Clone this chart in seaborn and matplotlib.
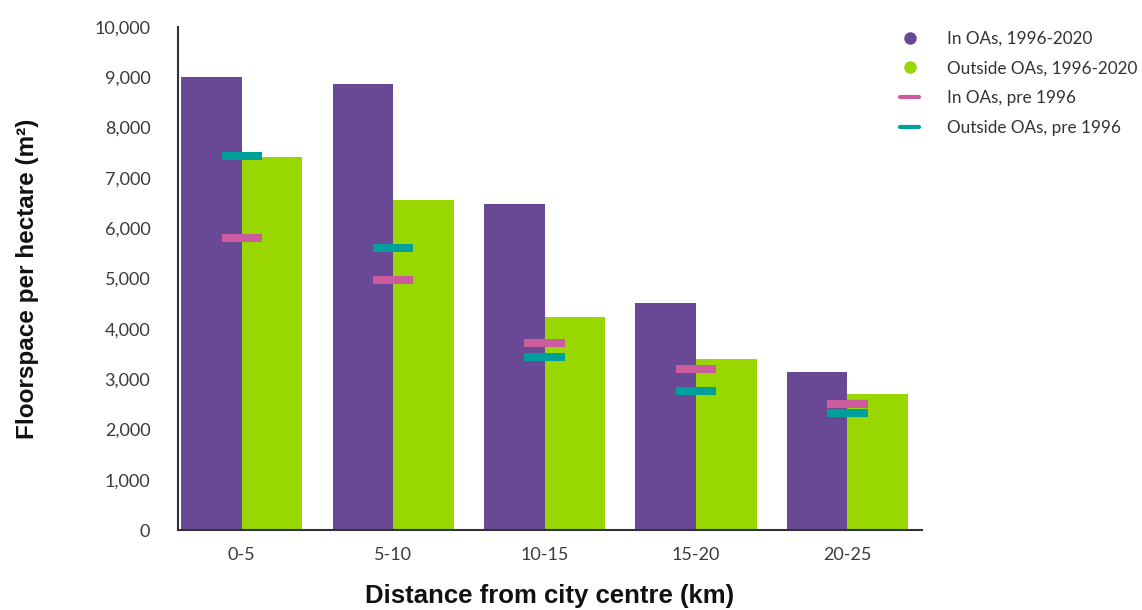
import numpy as np
import pandas as pd
import matplotlib
matplotlib.use("Agg")
import matplotlib.pyplot as plt
from matplotlib.lines import Line2D
import seaborn as sns

# Data
categories = ["0-5", "5-10", "10-15", "15-20", "20-25"]
in_oas_recent = [9000, 8870, 6480, 4510, 3140]
outside_oas_recent = [7420, 6560, 4230, 3400, 2700]
in_oas_pre1996 = [5800, 4970, 3720, 3200, 2510]
outside_oas_pre1996 = [7440, 5610, 3440, 2760, 2330]
y_ticks = [0, 1000, 2000, 3000, 4000, 5000, 6000, 7000, 8000, 9000, 10000]

series_names = ["In OAs, 1996-2020", "Outside OAs, 1996-2020",
                "In OAs, pre 1996", "Outside OAs, pre 1996"]
PURPLE = "#694896"
GREEN = "#98D800"
PINK = "#CD5C9E"
TEAL = "#00A09A"

sns.set_theme(style="white")
plt.rcParams["font.family"] = ["Lato", "DejaVu Sans"]

bars = pd.DataFrame({
    "distance": categories * 2,
    "value": in_oas_recent + outside_oas_recent,
    "series": [series_names[0]] * len(categories) + [series_names[1]] * len(categories),
})
pre = pd.DataFrame({
    "pos": list(np.arange(len(categories))) * 2,
    "value": in_oas_pre1996 + outside_oas_pre1996,
    "series": [series_names[2]] * len(categories) + [series_names[3]] * len(categories),
})

fig = plt.figure(figsize=(11.42, 6.10), dpi=100)
ax = fig.add_axes([0.156, 0.131, 0.651, 0.825])

sns.barplot(data=bars, x="distance", y="value", hue="series",
            palette=[PURPLE, GREEN], width=0.8, saturation=1,
            edgecolor="none", linewidth=0, legend=False, ax=ax)

# Pre-1996 levels drawn as short horizontal dashes over each group
sns.scatterplot(data=pre, x="pos", y="value", hue="series",
                palette=[PINK, TEAL], marker="_", s=29 ** 2,
                linewidth=5.8, legend=False, zorder=5, ax=ax)

ax.set_xlim(-0.42, 4.49)
ax.set_ylim(0, 10000)
ax.set_yticks(y_ticks)
ax.set_yticklabels([f"{v:,}" for v in y_ticks])
ax.set_xticks(range(len(categories)))
ax.set_xticklabels(categories)
ax.tick_params(axis="both", length=0, labelsize=13, colors="#3a3a3a")
ax.tick_params(axis="y", pad=20)
ax.tick_params(axis="x", pad=12)

for side in ["top", "right"]:
    ax.spines[side].set_visible(False)
for side in ["left", "bottom"]:
    ax.spines[side].set_color("#333333")
    ax.spines[side].set_linewidth(1.5)

ax.set_ylabel("Floorspace per hectare (m²)", fontsize=17.5, fontweight="bold",
              family="Liberation Sans", color="#111111", labelpad=40)
ax.set_xlabel("Distance from city centre (km)", fontsize=18.5, fontweight="bold",
              family="Liberation Sans", color="#111111", labelpad=15)

handles = [
    Line2D([], [], marker="o", linestyle="none", markersize=9,
           markerfacecolor=PURPLE, markeredgecolor="none"),
    Line2D([], [], marker="o", linestyle="none", markersize=9,
           markerfacecolor=GREEN, markeredgecolor="none"),
    Line2D([], [], color=PINK, linewidth=3),
    Line2D([], [], color=TEAL, linewidth=3),
]
fig.legend(handles, series_names, loc="upper left",
           bbox_to_anchor=(0.775, 0.975), frameon=False, fontsize=12.3,
           handlelength=1.1, handletextpad=1.6, labelspacing=0.8,
           labelcolor="#333333")

fig.savefig("out.png", dpi=100)
